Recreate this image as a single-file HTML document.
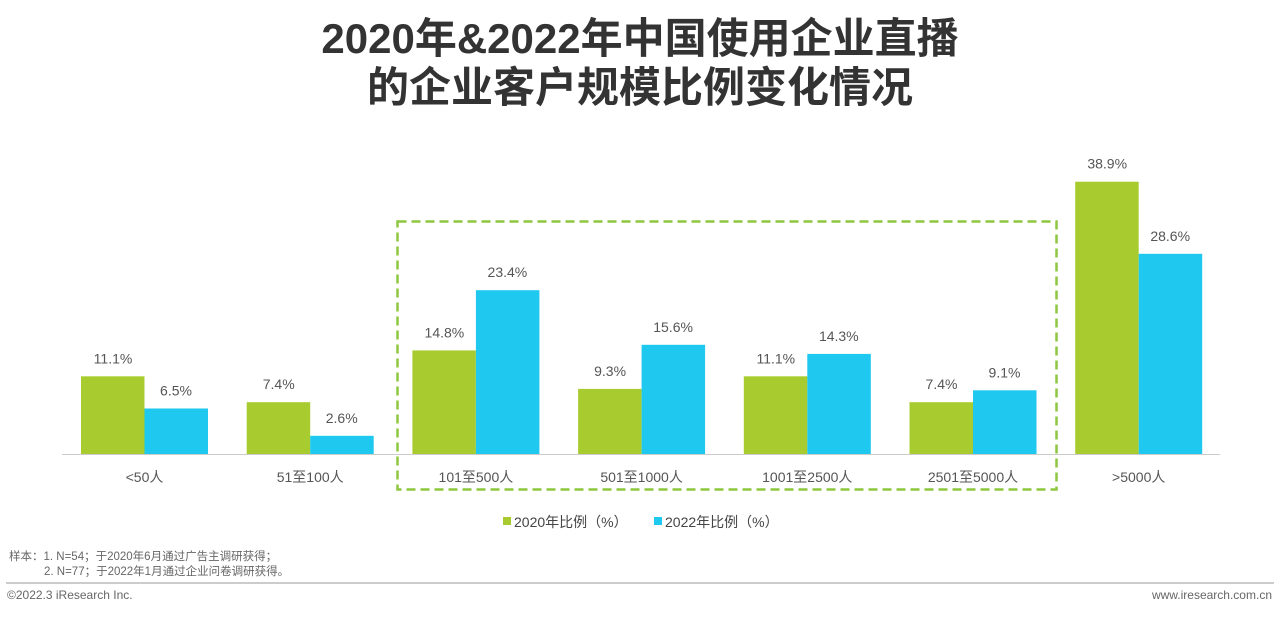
<!DOCTYPE html>
<html><head><meta charset="utf-8"><style>
body{margin:0;width:1280px;height:613px;background:#fff;overflow:hidden;font-family:"Liberation Sans","Noto Sans CJK SC",sans-serif}
</style></head><body>
<svg width="1280" height="613" xmlns="http://www.w3.org/2000/svg" font-family="Liberation Sans, Noto Sans CJK SC, sans-serif">
<text x="640" y="53" text-anchor="middle" font-size="42" font-weight="bold" fill="#333">2020年&amp;2022年中国使用企业直播</text>
<text x="640" y="102" text-anchor="middle" font-size="42" font-weight="bold" fill="#333">的企业客户规模比例变化情况</text>
<line x1="62" y1="454.5" x2="1220" y2="454.5" stroke="#ccc" stroke-width="1"/>
<g id="bars"></g>
<rect x="397.5" y="221.5" width="659" height="268" fill="none" stroke="#8dc63f" stroke-width="2.5" stroke-dasharray="9,5"/>
<rect x="503" y="517" width="8" height="8" fill="#a8cc2f"/>
<text x="514" y="527" font-size="14" fill="#444">2020年比例（%）</text>
<rect x="654" y="517" width="8" height="8" fill="#1ec8ee"/>
<text x="665" y="527" font-size="14" fill="#444">2022年比例（%）</text>
<text x="9" y="560" font-size="11.5" fill="#666">样本：1. N=54；于2020年6月通过广告主调研获得；</text>
<text x="44" y="575" font-size="11.5" fill="#666">2. N=77；于2022年1月通过企业问卷调研获得。</text>
<line x1="6" y1="583" x2="1274" y2="583" stroke="#999" stroke-width="1"/>
<text x="7" y="599" font-size="12" fill="#666">©2022.3 iResearch Inc.</text>
<text x="1272" y="599" text-anchor="end" font-size="12" fill="#666">www.iresearch.com.cn</text>
</svg>
<script>
var d=[["<50人",11.1,6.5],["51至100人",7.4,2.6],["101至500人",14.8,23.4],["501至1000人",9.3,15.6],["1001至2500人",11.1,14.3],["2501至5000人",7.4,9.1],[">5000人",38.9,28.6]];
var g=document.getElementById("bars"),h="";
d.forEach(function(e,i){var x=81+i*165.7,s=7.0,b=454;
var h1=e[1]*s,h2=e[2]*s;
h+='<rect x="'+x+'" y="'+(b-h1)+'" width="63.5" height="'+h1+'" fill="#a8cc2f"/>';
h+='<rect x="'+(x+63.5)+'" y="'+(b-h2)+'" width="63.5" height="'+h2+'" fill="#1ec8ee"/>';
h+='<text x="'+(x+32)+'" y="'+(b-h1-13)+'" text-anchor="middle" font-size="14" fill="#555">'+e[1].toFixed(1)+'%</text>';
h+='<text x="'+(x+95)+'" y="'+(b-h2-13)+'" text-anchor="middle" font-size="14" fill="#555">'+e[2].toFixed(1)+'%</text>';
h+='<text x="'+(x+63.5)+'" y="482" text-anchor="middle" font-size="14" fill="#555">'+e[0].replace("<","&lt;").replace(">","&gt;")+'</text>';});
g.innerHTML=h;
</script>
</body></html>
